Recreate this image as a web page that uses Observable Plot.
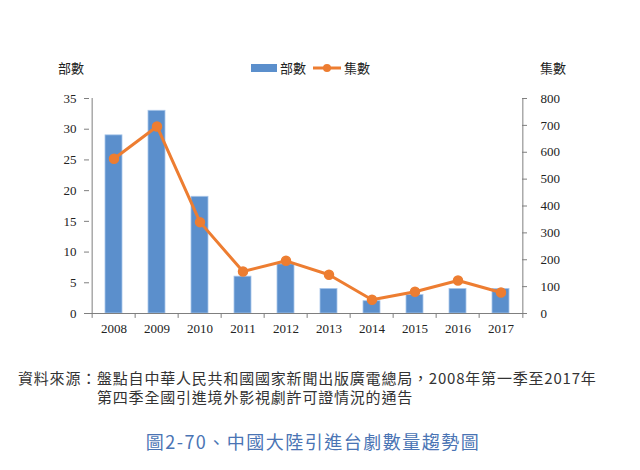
<!DOCTYPE html>
<html>
<head>
<meta charset="utf-8">
<script src="https://cdn.jsdelivr.net/npm/d3@7"></script>
<script src="https://cdn.jsdelivr.net/npm/@observablehq/plot@0.6"></script>
<style>
  html, body { margin: 0; padding: 0; background: #fff; }
  #root { position: relative; width: 640px; height: 470px; overflow: hidden; }
  .cjk { font-family: "Noto Sans CJK TC", "Noto Sans", sans-serif; }
  .abs { position: absolute; white-space: nowrap; }
  #chart svg text { font-family: "Liberation Serif", "Times New Roman", serif !important; font-size: 13px; fill: #222; }
</style>
</head>
<body>
<div id="root">
  <div id="chart" class="abs" style="left:0;top:0;"></div>
  <div class="abs cjk" style="left:58px;top:58px;font-size:13px;color:#222;">部數</div>
  <div class="abs cjk" style="left:540px;top:58px;font-size:13px;color:#222;">集數</div>
  <div id="legend" class="abs cjk" style="left:251px;top:58px;font-size:13px;color:#222;display:flex;align-items:center;"></div>
  <div class="abs cjk" style="left:18px;top:368px;font-size:15px;letter-spacing:0.8px;color:#333;line-height:19px;">
    資料來源：盤點自中華人民共和國國家新聞出版廣電總局，2008年第一季至2017年<br>
    <span style="padding-left:79px;">第四季全國引進境外影視劇許可證情況的通告</span>
  </div>
  <div class="abs cjk" style="left:0;width:626px;text-align:center;top:428px;font-size:18px;letter-spacing:1.5px;color:#4a74b4;">圖2-70、中國大陸引進台劇數量趨勢圖</div>
</div>
<script>
const years = ["2008","2009","2010","2011","2012","2013","2014","2015","2016","2017"];
const dramas = [29, 33, 19, 6, 8, 4, 2, 3, 4, 4];          // 部數
const episodes = [576, 696, 340, 156, 196, 144, 51, 81, 123, 78]; // 集數
const leftTicks = [0, 5, 10, 15, 20, 25, 30, 35];
const rightTicks = [0, 100, 200, 300, 400, 500, 600, 700, 800];

const leftMax = 35, rightMax = 800;
const toLeft = v => v * leftMax / rightMax;

const data = years.map((y, i) => ({year: y, dramas: dramas[i], episodes: episodes[i]}));

const W = 640, H = 340, mL = 89, mR = 114, mT = 98, mB = 27;
const step = (W - mL - mR) / years.length;

const barColor = "#5b8fcc";
const lineColor = "#ed7d31";
const axisColor = "#7f7f7f";

const chart = Plot.plot({
  width: W, height: H,
  marginLeft: mL, marginRight: mR, marginTop: mT, marginBottom: mB,
  style: {fontSize: "13px", color: "#222", background: "transparent"},
  x: {type: "band", domain: years, paddingInner: 0.6, paddingOuter: 0.3, label: null},
  y: {domain: [0, leftMax], label: null},
  marks: [
    Plot.barY(data, {x: "year", y: "dramas", fill: barColor, stroke: "#a9c6ea", strokeWidth: 0.8}),
    // axis lines
    Plot.ruleX(years.slice(0, 1), {x: d => d, y1: 0, y2: leftMax, dx: -step / 2, stroke: axisColor}),
    Plot.ruleX(years.slice(-1), {x: d => d, y1: 0, y2: leftMax, dx: step / 2, stroke: axisColor}),
    Plot.ruleY([0], {stroke: axisColor}),
    Plot.line(data, {x: "year", y: d => toLeft(d.episodes), stroke: lineColor, strokeWidth: 3}),
    Plot.dot(data, {x: "year", y: d => toLeft(d.episodes), r: 4.5, fill: lineColor, stroke: lineColor}),
    Plot.axisY(leftTicks, {anchor: "left", tickSize: 5, tickPadding: 8, stroke: axisColor, label: null}),
    Plot.axisY(rightTicks.map(toLeft), {anchor: "right", tickSize: 5, dx: -5, tickPadding: 14, tickFormat: d => Math.round(d * rightMax / leftMax), stroke: axisColor, label: null}),
    Plot.axisX({anchor: "bottom", tickSize: 0, tickPadding: 10, label: null}),
    Plot.ruleX(years, {x: d => d, y1: 0, y2: -0.8, dx: -step / 2, stroke: axisColor, clip: false}),
    Plot.ruleX(years.slice(-1), {x: d => d, y1: 0, y2: -0.8, dx: step / 2, stroke: axisColor, clip: false})
  ]
});
document.getElementById("chart").appendChild(chart);

// legend
const legend = document.getElementById("legend");
legend.innerHTML = `
  <svg width="26" height="10" style="margin-right:3px"><rect x="0" y="1" width="26" height="8" fill="${barColor}"/></svg>
  <span>部數</span>
  <svg width="28" height="10" style="margin-left:7px;margin-right:3px"><line x1="0" y1="5" x2="28" y2="5" stroke="${lineColor}" stroke-width="3"/><circle cx="14" cy="5" r="4" fill="${lineColor}"/></svg>
  <span>集數</span>`;
</script>
</body>
</html>
